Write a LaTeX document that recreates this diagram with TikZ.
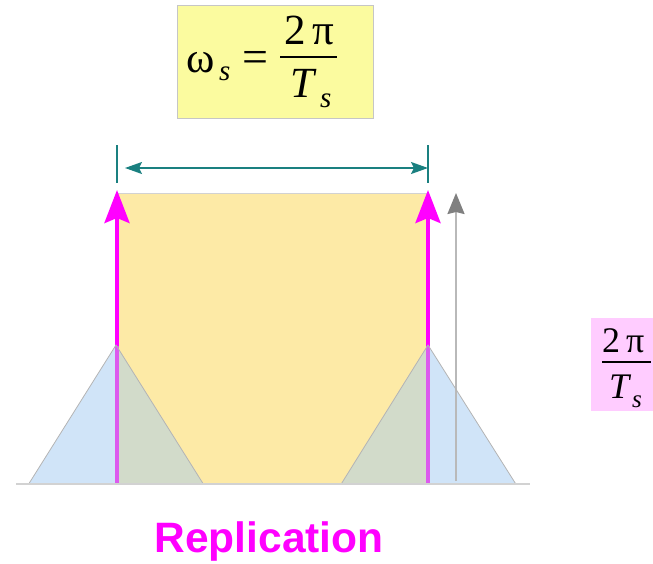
\documentclass[tikz,border=0pt]{standalone}
\usepackage{fontspec}
\newfontfamily\tnr{Liberation Serif}
\setsansfont{Liberation Sans}
\usetikzlibrary{arrows.meta}
\definecolor{boxyellow}{HTML}{FBFB9F}
\definecolor{rectyellow}{HTML}{FDEAA6}
\definecolor{triblue}{HTML}{D0E4F8}
\definecolor{overlapc}{HTML}{D2DBCA}
\definecolor{mag}{HTML}{FF00FF}
\definecolor{maglight}{HTML}{DC5AEE}
\definecolor{tealc}{HTML}{1A8080}
\definecolor{pinkbox}{HTML}{FFCCFF}
\definecolor{edgegray}{HTML}{B4B4B4}
\tikzset{
  txt/.style={inner sep=0pt, anchor=base west},
  big/.style={font=\tnr\fontsize{43}{43}\selectfont},
  bigit/.style={font=\tnr\itshape\fontsize{43}{43}\selectfont},
  mid/.style={font=\tnr\fontsize{36}{36}\selectfont},
  midit/.style={font=\tnr\itshape\fontsize{36}{36}\selectfont},
  sub/.style={font=\tnr\itshape\fontsize{29}{29}\selectfont},
  subsm/.style={font=\tnr\itshape\fontsize{25}{25}\selectfont},
  magarrow/.style={draw=mag, line width=4pt, -{Stealth[length=33pt,width=25pt,inset=5pt]}},
  dimarrow/.style={draw=tealc, line width=1.6pt, {Stealth[length=17pt,width=12pt,inset=3pt]}-{Stealth[length=17pt,width=12pt,inset=3pt]}},
  tick/.style={draw=tealc, line width=1.3pt},
  grayarrow/.style={draw=gray!55, line width=2pt, -{Stealth[length=21pt,width=17pt,inset=2pt,color=gray]}},
}
\begin{document}
\begin{tikzpicture}[x=1pt,y=-1pt]
\useasboundingbox (0,0) rectangle (653,563);

% formula box
\node[draw=gray!45, fill=boxyellow, line width=1pt, minimum width=196pt, minimum height=113pt, inner sep=0pt] (fbox) at (275,61.5) {};
\node[txt, big] (omega) at (186,72) {ω};
\node[txt, sub] (omegas) at (219,80) {s};
\node[txt, font=\tnr\fontsize{46}{46}\selectfont] (eq) at (242,72) {=};
\node[txt, big] (num) at (284,44) {2\,π};
\node[txt, bigit] (den) at (290,97) {T};
\node[txt, sub] (dens) at (320,107) {s};
\coordinate (barl) at (280,57);
\coordinate (barr) at (337,57);
\draw[line width=2pt] (barl) -- (barr);

% yellow band
\fill[rectyellow] (117,193) rectangle (428,484);
\coordinate (bandl) at (117,193);
\coordinate (bandr) at (428,193);
\draw[gray!35, line width=1pt] (bandl) -- (bandr);

% triangles
\coordinate (t1a) at (29,483.5);
\coordinate (t1b) at (116,345);
\coordinate (t1c) at (203,483.5);
\coordinate (t2a) at (341.5,483.5);
\coordinate (t2b) at (428,345);
\coordinate (t2c) at (515.5,483.5);
\path[fill=triblue] (t1a) -- (t1b) -- (t1c) -- cycle;
\path[fill=triblue] (t2a) -- (t2b) -- (t2c) -- cycle;
\begin{scope}
\clip (117,193) rectangle (428,484);
\fill[overlapc] (t1a) -- (t1b) -- (t1c) -- cycle;
\fill[overlapc] (t2a) -- (t2b) -- (t2c) -- cycle;
\end{scope}

% gray arrow
\coordinate (gb) at (456,481);
\coordinate (gt) at (456,193);
\draw[grayarrow] (gb) -- (gt);

% magenta arrows
\coordinate (m1b) at (117,484);
\coordinate (m1t) at (117,190);
\coordinate (m2b) at (428,484);
\coordinate (m2t) at (428,190);
\draw[magarrow] (m1b) -- (m1t);
\draw[magarrow] (m2b) -- (m2t);
\coordinate (m1a) at (117,346);
\coordinate (m2a) at (428,346);
\draw[maglight, line width=4pt] (m1a) -- (m1b);
\draw[maglight, line width=4pt] (m2a) -- (m2b);

% triangle outlines
\draw[edgegray, line width=0.8pt] (t1a) -- (t1b) -- (t1c);
\draw[edgegray, line width=0.8pt] (t2a) -- (t2b) -- (t2c);

% baseline
\coordinate (axl) at (16,484);
\coordinate (axr) at (530,484);
\draw[gray!35, line width=2pt] (axl) -- (axr);

% dimension line
\coordinate (k1t) at (117,145);
\coordinate (k1b) at (117,183);
\coordinate (k2t) at (428,145);
\coordinate (k2b) at (428,183);
\draw[tick] (k1t) -- (k1b);
\draw[tick] (k2t) -- (k2b);
\coordinate (dl) at (125,168);
\coordinate (dr) at (428,168);
\draw[dimarrow] (dl) -- (dr);

% pink box
\fill[pinkbox] (591,318) rectangle (653,411);
\node[txt, mid] (pnum) at (602,352) {2\,π};
\node[txt, midit] (pden) at (609,398) {T};
\node[txt, subsm] (pdens) at (632,407) {s};
\coordinate (pbl) at (602,362);
\coordinate (pbr) at (651,362);
\draw[line width=2pt] (pbl) -- (pbr);

% label
\node[inner sep=0pt, anchor=base, text=mag, font=\sffamily\bfseries\fontsize{42.5}{42.5}\selectfont] (repl) at (269,552) {Replication};
\end{tikzpicture}
\end{document}
